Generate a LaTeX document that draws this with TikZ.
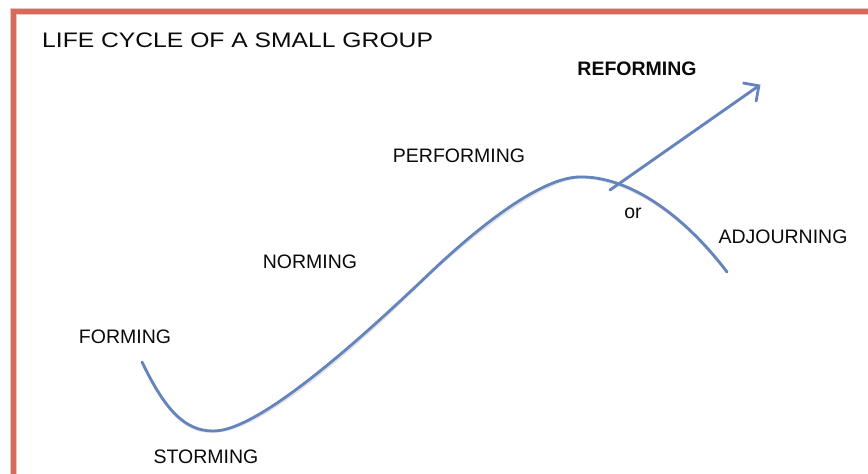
\documentclass[tikz,border=0pt]{standalone}
\usepackage{fontspec}
\setmainfont{Liberation Sans}
\usetikzlibrary{arrows.meta}
\definecolor{framered}{HTML}{D56A5E}
\definecolor{curveblue}{HTML}{6583BD}
\definecolor{txt}{HTML}{0A0A0A}
\tikzset{
  lbl/.style={text=txt, inner sep=0pt, font=\fontsize{19.5}{23}\selectfont},
  boldlbl/.style={lbl, font=\fontsize{19.5}{23}\selectfont\bfseries},
  curve/.style={draw=curveblue, line width=2.8pt, line cap=round},
  shadowline/.style={draw=black!18, line width=3pt, line cap=round, opacity=0.6},
}
\begin{document}
\begin{tikzpicture}[x=1pt,y=-1pt]
\fill[white] (0,0) rectangle (868,474);
\useasboundingbox (0,0) rectangle (868,474);
% frame
\draw[framered!40, line width=7pt] (868,11) -- (13.5,11) -- (13.5,474);
\draw[framered, line width=5pt] (868,11) -- (13.5,11) -- (13.5,474);
% title
\node[lbl, anchor=west, font=\fontsize{21}{25}\selectfont] (title) at (42,40.5) {\scalebox{1.175}[1]{LIFE CYCLE OF A SMALL GROUP}};
% labels
\node[lbl] (forming) at (125,336.5) {FORMING};
\node[lbl] (storming) at (206,456.5) {STORMING};
\node[lbl] (norming) at (310,261.5) {NORMING};
\node[lbl] (performing) at (459,156) {PERFORMING};
\node[boldlbl] (reforming) at (637,69) {REFORMING};
\node[lbl] (adjourning) at (783,236.5) {ADJOURNING};
\node[lbl, anchor=base] (or) at (633,218) {or};
% curve points
\coordinate (c0) at (142,362);
\coordinate (c1) at (213,431);
\coordinate (c2) at (430,273);
\coordinate (c3) at (580,177);
\coordinate (c4) at (727,272);
\coordinate (a0) at (610,190);
\coordinate (a1) at (760,85);
% shadows
\begin{scope}[shift={(1.2,2)}]
\draw[shadowline] (c0) .. controls (165,410) and (185,431) .. (c1)
  .. controls (260,432) and (370,330) .. (c2)
  .. controls (475,230) and (540,177) .. (c3)
  .. controls (625,176) and (680,210) .. (c4);
\draw[shadowline] (a0) -- (a1);
\end{scope}
% curve
\draw[curve] (c0) .. controls (165,410) and (185,431) .. (c1)
  .. controls (260,432) and (370,330) .. (c2)
  .. controls (475,230) and (540,177) .. (c3)
  .. controls (625,176) and (680,210) .. (c4);
% arrow to reforming
\draw[curve, -{Straight Barb[length=11pt, width=22pt, line width=2.8pt, round]}] (a0) -- (a1);
\end{tikzpicture}
\end{document}
